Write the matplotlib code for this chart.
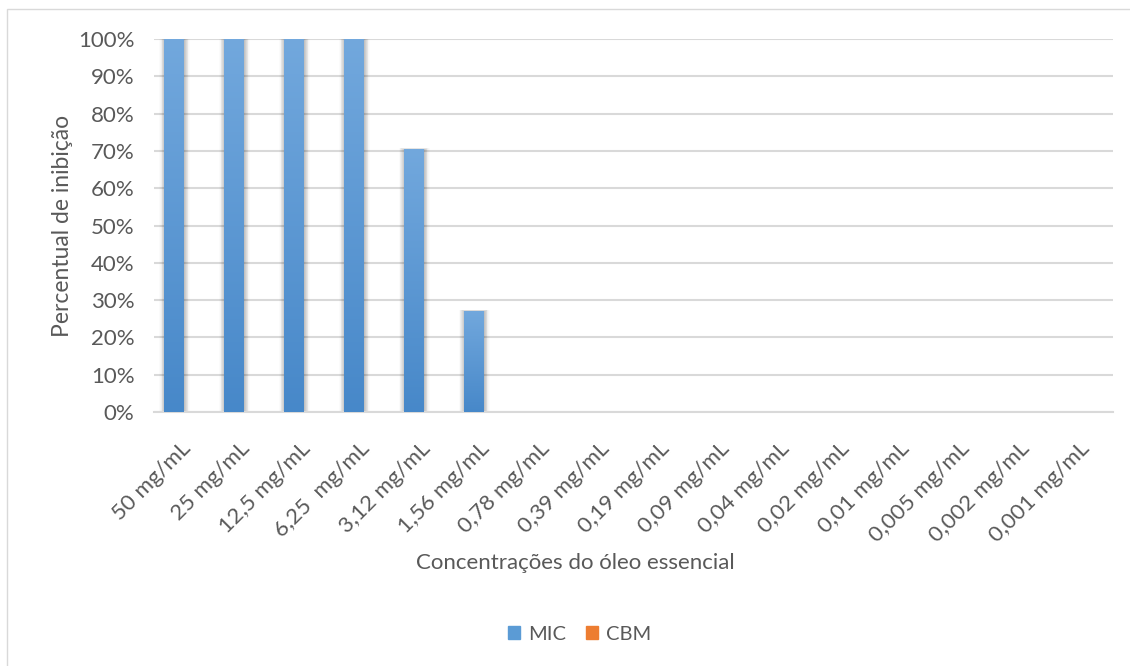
import numpy as np
import matplotlib.pyplot as plt
from matplotlib.patches import Rectangle, Patch
from matplotlib.colors import LinearSegmentedColormap
from matplotlib.ticker import PercentFormatter
from matplotlib.transforms import ScaledTranslation

plt.rcParams['font.family'] = ['Lato', 'DejaVu Sans']

concentracoes = ['50 mg/mL', '25 mg/mL', '12,5 mg/mL', '6,25  mg/mL', '3,12 mg/mL',
                 '1,56 mg/mL', '0,78 mg/mL', '0,39 mg/mL', '0,19 mg/mL', '0,09 mg/mL',
                 '0,04 mg/mL', '0,02 mg/mL', '0,01 mg/mL', '0,005 mg/mL', '0,002 mg/mL',
                 '0,001 mg/mL']
mic = [100, 100, 100, 100, 70.5, 27.1, 0, 0, 0, 0, 0, 0, 0, 0, 0, 0]
cbm = [0] * 16

texto = '#595959'
grade = '#d9d9d9'

fig = plt.figure(figsize=(11.3, 6.66), dpi=100)
ax = fig.add_axes([0.1363, 0.3814, 0.8487, 0.56])

x = np.arange(len(concentracoes))
w = 0.333
bars = ax.bar(x - w / 2, mic, w, color='#5b9bd5', zorder=3)
ax.bar(x + w / 2, cbm, w, color='#ed7d31', zorder=3)

# soft shadow and vertical gradient on the MIC bars
azul = LinearSegmentedColormap.from_list('azul', ['#4788c9', '#72a8dd'])
grad = np.linspace(0, 1, 256).reshape(-1, 1)
for b in bars:
    h = b.get_height()
    if h <= 0:
        continue
    x0 = b.get_x()
    for k, a in zip(range(1, 8), [0.06, 0.05, 0.045, 0.04, 0.03, 0.02, 0.015]):
        d = k * 0.013
        ax.add_patch(Rectangle((x0 - d + 0.01, -0.3), w + 2 * d, h + 0.3 + d * 3,
                               color='black', alpha=a, lw=0, zorder=2))
    im = ax.imshow(grad, cmap=azul, aspect='auto', origin='lower',
                   extent=(x0, x0 + w, 0, h), zorder=4)
    im.set_clip_path(b)

ax.set_xlim(-0.5, len(concentracoes) - 0.5)
ax.set_ylim(0, 100)
ax.set_yticks(np.arange(0, 101, 10))
ax.yaxis.set_major_formatter(PercentFormatter(decimals=0))
ax.grid(axis='y', color=grade, lw=1.5, zorder=0)
for s in ['top', 'right', 'left']:
    ax.spines[s].set_visible(False)
ax.spines['bottom'].set_color(grade)
ax.spines['bottom'].set_linewidth(1.5)
ax.tick_params(length=0, colors=texto, labelsize=16)
ax.tick_params(axis='y', pad=14)
ax.tick_params(axis='x', pad=19)
ax.set_xticks(x)
ax.set_xticklabels(concentracoes, rotation=45, ha='right', va='top',
                   rotation_mode='anchor')
shift = ScaledTranslation(-4 / 100, 0, fig.dpi_scale_trans)
for lbl in ax.get_xticklabels():
    lbl.set_transform(lbl.get_transform() + shift)

ax.set_ylabel('Percentual de inibição', color=texto, fontsize=16.5, labelpad=4)
fig.text(0.509, 0.155, 'Concentrações do óleo essencial', color=texto,
         fontsize=16, ha='center', va='center')

handles = [Patch(color='#5b9bd5', label='MIC'), Patch(color='#ed7d31', label='CBM')]
fig.legend(handles=handles, loc='center', bbox_to_anchor=(0.513, 0.048), ncol=2,
           frameon=False, fontsize=14.5, labelcolor=texto, handlelength=0.6,
           handleheight=0.6, handletextpad=0.4, columnspacing=1.0)

# chart area border
fig.add_artist(Rectangle((7 / 1130, -0.1), 1.2, (666 - 9) / 666 + 0.1,
                         transform=fig.transFigure, fill=False,
                         edgecolor='#d9d9d9', lw=1))

fig.savefig('out.png', dpi=100, facecolor='white')
